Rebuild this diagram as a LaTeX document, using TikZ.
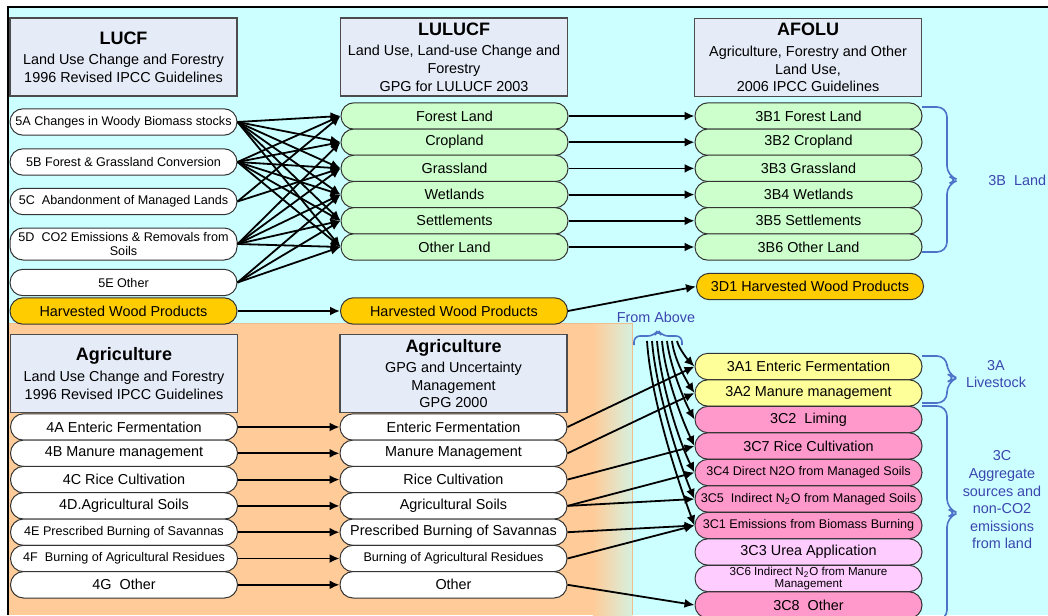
\documentclass[tikz,border=0pt]{standalone}
\usepackage{fontspec}
\setmainfont{Liberation Sans}
\usetikzlibrary{arrows.meta}
\tikzset{>={Latex[length=5pt,width=4.5pt]}}

\definecolor{skybg}{RGB}{204,255,255}
\definecolor{peach}{RGB}{255,204,153}
\definecolor{peachline}{RGB}{240,190,140}
\definecolor{fadegreen}{RGB}{214,240,222}
\definecolor{hdrgrey}{RGB}{229,235,247}
\definecolor{landgreen}{RGB}{204,255,204}
\definecolor{woodorange}{RGB}{255,204,0}
\definecolor{liveyellow}{RGB}{255,255,153}
\definecolor{aggpink}{RGB}{255,153,204}
\definecolor{agglight}{RGB}{255,204,255}
\definecolor{labelblue}{RGB}{60,70,175}
\definecolor{bracketblue}{RGB}{75,115,200}

\newcommand{\titlefont}{\fontsize{9}{10}\selectfont\bfseries}
\newcommand{\hdfont}{\fontsize{7.2}{8.8}\selectfont}
\newcommand{\boxfont}{\fontsize{7.2}{8}\selectfont}
\newcommand{\smallboxfont}{\fontsize{6.3}{7}\selectfont}
\newcommand{\tinyboxfont}{\fontsize{5.8}{6}\selectfont}

\tikzstyle{header}=[rectangle,draw=black!70,fill=hdrgrey,line width=0.6pt,minimum width=113.5pt,minimum height=39pt,align=center,font=\hdfont,inner sep=1pt]
\tikzstyle{pill}=[rectangle,rounded corners=6.5pt,draw=black!80,line width=0.5pt,minimum width=113.5pt,minimum height=13.2pt,inner sep=0.5pt,align=center,font=\boxfont]
\tikzstyle{oldpill}=[pill,fill=white]
\tikzstyle{landpill}=[pill,fill=landgreen]
\tikzstyle{woodpill}=[pill,fill=woodorange]
\tikzstyle{livepill}=[pill,fill=liveyellow]
\tikzstyle{aggpill}=[pill,fill=aggpink]
\tikzstyle{lightpill}=[pill,fill=agglight]
\tikzstyle{flow}=[->,line width=0.9pt]
\tikzstyle{bluenote}=[text=labelblue,align=center,font=\hdfont]
\tikzstyle{bracket}=[draw=bracketblue,line width=0.8pt]

\begin{document}
\begin{tikzpicture}[x=0.5pt,y=-0.5pt,inner sep=1pt]
	\useasboundingbox (0,0) rectangle (1048,615);
	
	% background
	\fill[white] (0,0) rectangle (1048,615);
	\fill[skybg] (8,7) rectangle (1048,615);
	\fill[peach] (8,323) rectangle (593,615);
	\shade[left color=peach,right color=fadegreen] (593,323) rectangle (632,615);
	\draw[peachline,line width=0.5pt] (8,323) -- (632,323) -- (632,615);
	\draw[line width=0.8pt] (8,615) -- (8,7) -- (1048,7);
	
	% LUCF
	\node[header] (lucf) at (123.5,57) {{\titlefont LUCF}\\[1.5pt] Land Use Change and Forestry\\ 1996 Revised IPCC Guidelines};
	\node[oldpill,font=\smallboxfont] (s5A) at (123.5,122) {5A Changes in Woody Biomass stocks};
	\node[oldpill,font=\smallboxfont] (s5B) at (123.5,162) {5B Forest \& Grassland Conversion};
	\node[oldpill,font=\smallboxfont] (s5C) at (123.5,201.5) {5C\ \ Abandonment of Managed Lands};
	\node[oldpill,font=\smallboxfont,minimum height=16pt] (s5D) at (123.5,244) {5D\ \ CO2 Emissions \& Removals from\\ Soils};
	\node[oldpill,font=\smallboxfont] (s5E) at (123.5,282.5) {5E Other};
	\node[woodpill] (hwpA) at (123.5,311) {Harvested Wood Products};
	
	% LULUCF
	\node[header] (lulucf) at (454,57) {{\titlefont LULUCF}\\[1.5pt] Land Use, Land-use Change and\\ Forestry\\ GPG for LULUCF 2003};
	\node[landpill] (forest) at (454.5,116) {Forest Land};
	\node[landpill] (crop) at (454.5,142.2) {Cropland};
	\node[landpill] (grass) at (454.5,168.4) {Grassland};
	\node[landpill] (wet) at (454.5,194.6) {Wetlands};
	\node[landpill] (settle) at (454.5,220.8) {Settlements};
	\node[landpill] (otherland) at (454.5,247) {Other Land};
	\node[woodpill] (hwpB) at (454,311) {Harvested Wood Products};
	
	% AFOLU
	\node[header] (afolu) at (808,57.5) {{\titlefont AFOLU}\\[1.5pt] Agriculture, Forestry and Other\\ Land Use,\\ 2006 IPCC Guidelines};
	\node[landpill] (b1) at (808.5,116) {3B1 Forest Land};
	\node[landpill] (b2) at (808.5,142.2) {3B2 Cropland};
	\node[landpill] (b3) at (808.5,168.4) {3B3 Grassland};
	\node[landpill] (b4) at (808.5,194.6) {3B4 Wetlands};
	\node[landpill] (b5) at (808.5,220.8) {3B5 Settlements};
	\node[landpill] (b6) at (808.5,247) {3B6 Other Land};
	\node[woodpill] (d1) at (810,286.5) {3D1 Harvested Wood Products};
	
	% Agriculture, 1996
	\node[header] (agrA) at (124,373.5) {{\titlefont Agriculture}\\[1.5pt] Land Use Change and Forestry\\ 1996 Revised IPCC Guidelines};
	\node[oldpill] (s4A) at (124,427) {4A Enteric Fermentation};
	\node[oldpill] (s4B) at (124,453.3) {4B Manure management};
	\node[oldpill] (s4C) at (124,479.6) {4C Rice Cultivation};
	\node[oldpill] (s4D) at (124,505.9) {4D.Agricultural Soils};
	\node[oldpill,font=\smallboxfont] (s4E) at (124,532.2) {4E Prescribed Burning of Savannas};
	\node[oldpill,font=\smallboxfont] (s4F) at (124,558.5) {4F\ \ Burning of Agricultural Residues};
	\node[oldpill] (s4G) at (124,584.8) {4G\ \ Other};
	
	% Agriculture, GPG 2000
	\node[header] (agrB) at (453.5,373.5) {{\titlefont Agriculture}\\[1.5pt] GPG and Uncertainty\\ Management\\ GPG 2000};
	\node[oldpill] (gEnt) at (453.5,427) {Enteric Fermentation};
	\node[oldpill] (gMan) at (453.5,453.3) {Manure Management};
	\node[oldpill] (gRice) at (453.5,479.6) {Rice Cultivation};
	\node[oldpill] (gSoil) at (453.5,505.9) {Agricultural Soils};
	\node[oldpill] (gSav) at (453.5,532.2) {Prescribed Burning of Savannas};
	\node[oldpill,font=\smallboxfont] (gRes) at (453.5,558.5) {Burning of Agricultural Residues};
	\node[oldpill] (gOth) at (453.5,584.8) {Other};
	
	% AFOLU, livestock and aggregate sources
	\node[livepill] (a1) at (808.5,366.5) {3A1 Enteric Fermentation};
	\node[livepill] (a2) at (808.5,393) {3A2 Manure management};
	\node[aggpill] (c2) at (808.5,419.5) {3C2\ \ Liming};
	\node[aggpill] (c7) at (808.5,446) {3C7 Rice Cultivation};
	\node[aggpill,font=\smallboxfont] (c4) at (808.5,472.5) {3C4 Direct N2O from Managed Soils};
	\node[aggpill,font=\smallboxfont] (c5) at (808.5,499) {3C5\ \ Indirect N\textsubscript{2}O from Managed Soils};
	\node[aggpill,font=\smallboxfont] (c1) at (808.5,525.5) {3C1 Emissions from Biomass Burning};
	\node[lightpill] (c3) at (808.5,552) {3C3 Urea Application};
	\node[lightpill,font=\tinyboxfont] (c6) at (808.5,578.5) {3C6 Indirect N\textsubscript{2}O from Manure\\ Management};
	\node[aggpill] (c8) at (808.5,605) {3C8\ \ Other};
	
	% LUCF to LULUCF
	\draw[flow] (s5A.east) -- (forest.west);
	\draw[flow] (s5A.east) -- (crop.west);
	\draw[flow] (s5A.east) -- (grass.west);
	\draw[flow] (s5A.east) -- (wet.west);
	\draw[flow] (s5A.east) -- (settle.west);
	\draw[flow] (s5A.east) -- (otherland.west);
	\draw[flow] (s5B.east) -- (forest.west);
	\draw[flow] (s5B.east) -- (crop.west);
	\draw[flow] (s5B.east) -- (grass.west);
	\draw[flow] (s5B.east) -- (wet.west);
	\draw[flow] (s5B.east) -- (settle.west);
	\draw[flow] (s5B.east) -- (otherland.west);
	\draw[flow] (s5C.east) -- (forest.west);
	\draw[flow] (s5C.east) -- (grass.west);
	\draw[flow] (s5D.east) -- (crop.west);
	\draw[flow] (s5D.east) -- (grass.west);
	\draw[flow] (s5D.east) -- (wet.west);
	\draw[flow] (s5D.east) -- (settle.west);
	\draw[flow] (s5D.east) -- (otherland.west);
	\draw[flow] (s5E.east) -- (wet.west);
	\draw[flow] (s5E.east) -- (settle.west);
	\draw[flow] (s5E.east) -- (otherland.west);
	\draw[flow] (hwpA) -- (hwpB);
	
	% LULUCF to AFOLU
	\draw[flow] (forest) -- (b1);
	\draw[flow] (crop) -- (b2);
	\draw[flow] (grass) -- (b3);
	\draw[flow] (wet) -- (b4);
	\draw[flow] (settle) -- (b5);
	\draw[flow] (otherland) -- (b6);
	\draw[flow] (hwpB.east) -- (d1.west);
	
	% agriculture rows
	\draw[flow] (s4A) -- (gEnt);
	\draw[flow] (s4B) -- (gMan);
	\draw[flow] (s4C) -- (gRice);
	\draw[flow] (s4D) -- (gSoil);
	\draw[flow] (s4E) -- (gSav);
	\draw[flow] (s4F) -- (gRes);
	\draw[flow] (s4G) -- (gOth);
	\draw[flow] (gEnt.east) -- (a1.west);
	\draw[flow] (gMan.east) -- (a2.west);
	\draw[flow] (gRice.east) -- (c7.west);
	\draw[flow] (gSoil.east) -- (c4.west);
	\draw[flow] (gSoil.east) -- (c5.west);
	\draw[flow] (gSav.east) -- (c1.west);
	\draw[flow] (gRes.east) -- (c1.west);
	\draw[flow] (gOth.east) -- (c8.west);
	
	% from above
	\node[bluenote] (above) at (656,317) {From Above};
	\draw[bracket,rounded corners=3pt] (634,345) |- (654,336) -- (658,330) -- (662,336) -| (682,345);
	\coordinate (fa1) at (647,341);
	\coordinate (fa2) at (652,341);
	\coordinate (fa3) at (657,341);
	\coordinate (fa4) at (662,341);
	\coordinate (fa5) at (667,341);
	\coordinate (fa6) at (672,341);
	\coordinate (fa7) at (677,341);
	\draw[flow] (fa1) .. controls +(4,60) and +(-15,-40) .. (c1.west);
	\draw[flow] (fa2) .. controls +(4,50) and +(-15,-35) .. (c5.west);
	\draw[flow] (fa3) .. controls +(4,45) and +(-15,-30) .. (c4.west);
	\draw[flow] (fa4) .. controls +(3,35) and +(-12,-25) .. (c7.west);
	\draw[flow] (fa5) .. controls +(3,25) and +(-10,-18) .. (c2.west);
	\draw[flow] (fa6) .. controls +(2,18) and +(-8,-12) .. (a2.west);
	\draw[flow] (fa7) .. controls +(2,8) and +(-6,-6) .. (a1.west);
	
	% groups
	\draw[bracket,rounded corners=5pt] (922,107) -| (947,176) -- (959,180) -- (947,184) |- (922,252);
	\draw[bracket,rounded corners=5pt] (922,356) -| (947,374) -- (957,378) -- (947,382) |- (922,403);
	\draw[bracket,rounded corners=5pt] (922,406) -| (947,509) -- (958,513) -- (947,517) |- (922,620);
	\node[bluenote,anchor=west] (landlab) at (986,180) {3B\ \ Land};
	\node[bluenote] (livelab) at (996,374) {3A\\ Livestock};
	\node[bluenote] (agglab) at (1002,500) {3C\\ Aggregate\\ sources and\\ non-CO2\\ emissions\\ from land};
\end{tikzpicture}
\end{document}
